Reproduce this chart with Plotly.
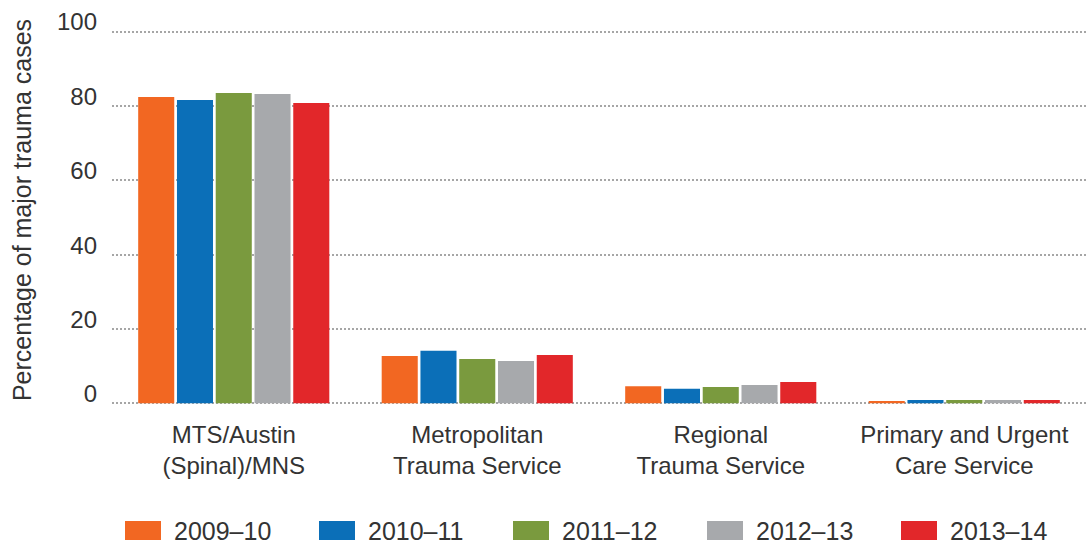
import plotly.graph_objects as go

categories = ["MTS/Austin<br>(Spinal)/MNS", "Metropolitan<br>Trauma Service",
              "Regional<br>Trauma Service", "Primary and Urgent<br>Care Service"]
series_names = ["2009–10", "2010–11", "2011–12", "2012–13", "2013–14"]
colors = ["#F26722", "#0B6FB8", "#7A9A3E", "#A7A9AC", "#E2272A"]
v_2009_10 = [82.4, 12.7, 4.6, 0.6]
v_2010_11 = [81.6, 14.1, 3.9, 0.9]
v_2011_12 = [83.5, 11.9, 4.4, 0.9]
v_2012_13 = [83.2, 11.4, 4.9, 0.9]
v_2013_14 = [80.8, 13.0, 5.7, 0.9]
series_values = [v_2009_10, v_2010_11, v_2011_12, v_2012_13, v_2013_14]
y_ticks = [0, 20, 40, 60, 80, 100]

FONT = "Liberation Sans, Arial, Helvetica, sans-serif"
TXT = "#333333"

fig = go.Figure()
for name, col, vals in zip(series_names, colors, series_values):
    fig.add_trace(go.Bar(x=categories, y=vals, name=name, marker_color=col,
                         marker_line_width=0, showlegend=False))
# empty trace so the label axis (y2) is drawn
fig.add_trace(go.Scatter(x=[], y=[], yaxis="y2", showlegend=False, hoverinfo="skip"))

W, H = 1091, 545
ml, mr, mt, mb = 112, 5, 13, 138
pw, ph = W - ml - mr, H - mt - mb
Y0, Y1 = -1, 105
upp = (Y1 - Y0) / ph          # data units per pixel
label_shift = 9.5 * upp       # tick labels sit just above their gridlines

def px_x(p):
    return (p - ml) / pw
def px_y(p):
    return (H - mb - p) / ph

# Manual legend (wide rectangular swatches as in the reference)
shapes = []
annotations = []
for i, (name, col) in enumerate(zip(series_names, colors)):
    x0 = 125 + 194 * i
    shapes.append(dict(type="rect", xref="paper", yref="paper",
                       x0=px_x(x0), x1=px_x(x0 + 36), y0=px_y(540), y1=px_y(521),
                       fillcolor=col, line=dict(width=0)))
    annotations.append(dict(xref="paper", yref="paper", x=px_x(x0 + 47), y=px_y(531),
                            xanchor="left", yanchor="middle", text=name, showarrow=False,
                            font=dict(size=25, color=TXT, family=FONT)))

fig.update_layout(
    width=W, height=H,
    margin=dict(l=ml, r=mr, t=mt, b=mb, pad=0, autoexpand=False),
    paper_bgcolor="white", plot_bgcolor="white",
    barmode="group", bargap=0.204, bargroupgap=0.07,
    font=dict(family=FONT, size=24, color=TXT),
    shapes=shapes, annotations=annotations,
    showlegend=False,
    xaxis=dict(showgrid=False, showline=False, zeroline=False, ticks="",
               automargin=False, tickfont=dict(size=24, color=TXT),
               ticklabelstandoff=11),
    yaxis=dict(range=[Y0, Y1], tickvals=y_ticks, showgrid=True,
               gridcolor="#A6A6A6", gridwidth=2, griddash="2px,2px",
               zeroline=False, showline=False, ticks="", automargin=False,
               showticklabels=False),
    yaxis2=dict(overlaying="y", side="left", range=[Y0 - label_shift, Y1 - label_shift],
                tickvals=y_ticks, showgrid=False, zeroline=False, showline=False,
                ticks="", automargin=False, ticklabelstandoff=14,
                tickfont=dict(size=24, color=TXT),
                title=dict(text="Percentage of major trauma cases",
                           font=dict(size=25, color=TXT), standoff=18)),
)

fig.write_html("out.html", config={"displayModeBar": False},
               post_script="document.body.style.margin='0';document.body.style.overflow='hidden';")
